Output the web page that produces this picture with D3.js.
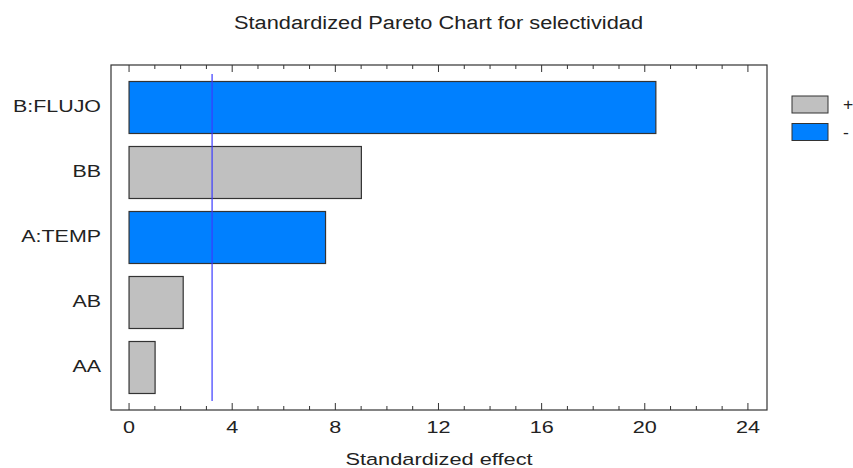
<!DOCTYPE html>
<html>
<head>
<meta charset="utf-8">
<script src="https://cdn.jsdelivr.net/npm/d3@7"></script>
<style>
  body { margin: 0; background: #fff; }
  text { font-family: "Liberation Sans", Arial, sans-serif; fill: #222; }
</style>
</head>
<body>
<svg width="853" height="468"></svg>
<script>
const factors = ["B:FLUJO", "BB", "A:TEMP", "AB", "AA"];
const effects = [20.43, 9.01, 7.62, 2.10, 1.01];
const signs = ["-", "+", "-", "+", "+"];
const xTicks = [0, 4, 8, 12, 16, 20, 24];
const critical = 3.22;

const colors = { "+": "#c0c0c0", "-": "#0080ff" };

let svg = d3.select("svg");

let plotLeft = 111, plotRight = 767, plotTop = 65, plotBottom = 410;

// the original image text is a bit wide, so stretch it horizontally
function place(sel, fx, fy, sx) {
    sel.attr("transform", (d, i) => `translate(${fx(d, i)},${fy(d, i)}) scale(${sx},1)`);
}

let x = d3.scaleLinear()
    .domain([-0.7, 24.74])
    .range([plotLeft, plotRight]);

let y = d3.scaleBand()
    .domain(factors)
    .range([75, 400])
    .paddingInner(0.2)
    .paddingOuter(0.1);

// frame
svg.append("rect")
    .attr("x", plotLeft).attr("y", plotTop)
    .attr("width", plotRight - plotLeft).attr("height", plotBottom - plotTop)
    .attr("fill", "none").attr("stroke", "#333").attr("stroke-width", 1.2);

// ticks, bottom and top, pointing inward
const minor = d3.range(0, 25, 1);
[[plotBottom, -1], [plotTop, 1]].forEach(([yy, dir]) => {
    svg.selectAll(null)
        .data(minor)
        .enter()
        .append("line")
        .attr("x1", d => x(d)).attr("x2", d => x(d))
        .attr("y1", yy)
        .attr("y2", d => yy + dir * (d % 4 === 0 ? 7 : 4))
        .attr("stroke", "#333");
});

let xLabels = svg.selectAll(".xlab")
    .data(xTicks)
    .enter()
    .append("text")
    .attr("text-anchor", "middle")
    .style("font-size", "16px")
    .text(d => d);
place(xLabels, d => x(d), () => 433, 1.35);

// bars
svg.selectAll(".bar")
    .data(factors)
    .enter()
    .append("rect")
    .attr("x", x(0))
    .attr("y", d => y(d))
    .attr("width", (d, i) => x(effects[i]) - x(0))
    .attr("height", y.bandwidth())
    .attr("fill", (d, i) => colors[signs[i]])
    .attr("stroke", "#333")
    .attr("stroke-width", 1.2);

// category labels
let yLabels = svg.selectAll(".ylab")
    .data(factors)
    .enter()
    .append("text")
    .attr("text-anchor", "end")
    .style("font-size", "17px")
    .text(d => d);
place(yLabels, () => 101, d => y(d) + y.bandwidth() / 2 + 4, 1.26);

// critical value line
svg.append("line")
    .attr("x1", x(critical)).attr("x2", x(critical))
    .attr("y1", 74).attr("y2", 401)
    .attr("stroke", "#3a3aff").attr("stroke-width", 1.2);

// legend
const legendItems = ["+", "-"];
svg.selectAll(".leg")
    .data(legendItems)
    .enter()
    .append("rect")
    .attr("x", 792)
    .attr("y", (d, i) => 96 + i * 27.5)
    .attr("width", 36)
    .attr("height", 17)
    .attr("fill", d => colors[d])
    .attr("stroke", "#333");

let legText = svg.selectAll(".legt")
    .data(legendItems)
    .enter()
    .append("text")
    .style("font-size", "16px")
    .text(d => d);
place(legText, () => 843, (d, i) => 110 + i * 27.5, 1.1);

// title and axis label
let title = svg.append("text")
    .attr("text-anchor", "middle")
    .style("font-size", "18px")
    .text("Standardized Pareto Chart for selectividad");
place(title, () => 438.5, () => 29, 1.21);

let xTitle = svg.append("text")
    .attr("text-anchor", "middle")
    .style("font-size", "16.5px")
    .text("Standardized effect");
place(xTitle, () => 439, () => 465, 1.32);
</script>
</body>
</html>
